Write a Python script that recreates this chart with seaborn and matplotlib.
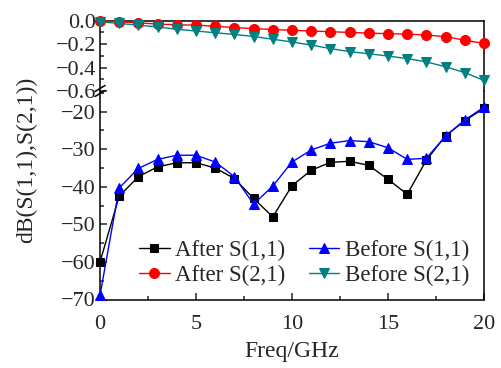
import numpy as np
import pandas as pd
import matplotlib
matplotlib.use("Agg")
import matplotlib.pyplot as plt
from matplotlib.ticker import MultipleLocator
import seaborn as sns

# values
freq = list(range(0, 21))

after_s11 = [-60.0, -42.5, -37.3, -34.7, -33.6, -33.6, -35.0, -37.8, -43.1, -48.0,
             -39.7, -35.6, -33.5, -33.2, -34.3, -38.0, -42.0, -32.9, -26.4, -22.4, -19.1]
before_s11 = [-68.9, -40.3, -35.1, -32.7, -31.6, -31.6, -33.4, -37.3, -44.6, -39.8,
              -33.4, -30.2, -28.4, -27.7, -28.0, -29.6, -32.7, -32.4, -26.5, -22.2, -18.8]
after_s21 = [0.0, -0.009, -0.018, -0.029, -0.035, -0.038, -0.047, -0.059, -0.067, -0.076,
             -0.082, -0.088, -0.094, -0.100, -0.106, -0.111, -0.114, -0.123, -0.135, -0.167, -0.194]
before_s21 = [-0.009, -0.023, -0.038, -0.053, -0.073, -0.088, -0.103, -0.117, -0.135, -0.158,
              -0.182, -0.208, -0.238, -0.264, -0.282, -0.302, -0.323, -0.352, -0.393, -0.443, -0.510]

sns.set_style("ticks")
plt.rcParams['font.family'] = ['Liberation Serif', 'DejaVu Serif']
plt.rcParams['xtick.direction'] = 'in'
plt.rcParams['ytick.direction'] = 'in'
plt.rcParams['axes.linewidth'] = 1.1

fig = plt.figure(figsize=(5.02, 3.68), dpi=100)
# bottom part (S11) and top part (S21) of the broken axis
ax_lo = fig.add_axes([100 / 502, 1 - 299.5 / 368, 384 / 502, (299.5 - 91) / 368])
ax_hi = fig.add_axes([100 / 502, 1 - 91 / 368, 384 / 502, (91 - 20.7) / 368])

styles = [
    (ax_lo, after_s11, "After S(1,1)", "black", "s", 5.5),
    (ax_lo, before_s11, "Before S(1,1)", "#0000ff", "^", 7),
    (ax_hi, after_s21, "After S(2,1)", "#ff0000", "o", 7.2),
    (ax_hi, before_s21, "Before S(2,1)", "#008080", "v", 7.2),
]
for ax, vals, name, col, mk, ms in styles:
    df = pd.DataFrame({"freq": freq, "val": vals})
    sns.lineplot(data=df, x="freq", y="val", ax=ax, color=col, marker=mk,
                 markersize=ms, markeredgecolor=col, linewidth=1.0,
                 label=name, clip_on=False, zorder=3)

for ax in (ax_lo, ax_hi):
    ax.set_xlim(0, 20)
    ax.set_xlabel("")
    ax.set_ylabel("")
    ax.tick_params(labelsize=16, length=5, width=1.1, pad=3, right=False, top=False)
    ax.tick_params(which='minor', length=3, width=1.1, right=False, top=False)
    for s in ax.spines.values():
        s.set_color("black")
    if ax.get_legend() is not None:
        ax.get_legend().remove()

ax_lo.set_ylim(-70, -14.5)
ax_lo.yaxis.set_major_locator(MultipleLocator(10))
ax_lo.yaxis.set_minor_locator(MultipleLocator(5))
ax_lo.xaxis.set_major_locator(MultipleLocator(5))
ax_lo.xaxis.set_minor_locator(MultipleLocator(2.5))
ax_lo.tick_params(axis='x', pad=11.5)
ax_lo.spines['top'].set_visible(False)

ax_hi.set_ylim(-0.6, 0.0)
ax_hi.yaxis.set_minor_locator(MultipleLocator(0.1))
ax_hi.set_yticks([0.0, -0.2, -0.4, -0.6])
ax_hi.set_yticklabels(["0.0", "\u22120.2", "\u22120.4", "\u22120.6"])
ax_hi.spines['bottom'].set_visible(False)
ax_hi.tick_params(axis='x', which='both', bottom=False, labelbottom=False)

ax_lo.set_xlabel("Freq/GHz", fontsize=17, labelpad=5)
fig.text(27 / 502, 1 - 160 / 368, "dB(S(1,1),S(2,1))", rotation=90,
         ha='center', va='center', fontsize=17)

# break marks on the left spine
bx = 100 / 502
for dy in (-2.5, 2.5):
    yc = 1 - (91 + dy) / 368
    fig.add_artist(plt.Line2D([bx - 5 / 502, bx + 5 / 502], [yc - 3 / 368, yc + 3 / 368],
                              color="black", linewidth=1.1))

h1, l1 = ax_lo.get_legend_handles_labels()
h2, l2 = ax_hi.get_legend_handles_labels()
handles = [h1[0], h2[0], h1[1], h2[1]]
labels = [l1[0], l2[0], l1[1], l2[1]]
ax_lo.legend(handles, labels, ncol=2, frameon=False, fontsize=16.5,
             loc='lower left', bbox_to_anchor=(0.065, 0.0),
             handlelength=1.35, handletextpad=0.25, columnspacing=1.0,
             labelspacing=0.15, borderaxespad=0.2)

fig.savefig("out.png", dpi=100)
